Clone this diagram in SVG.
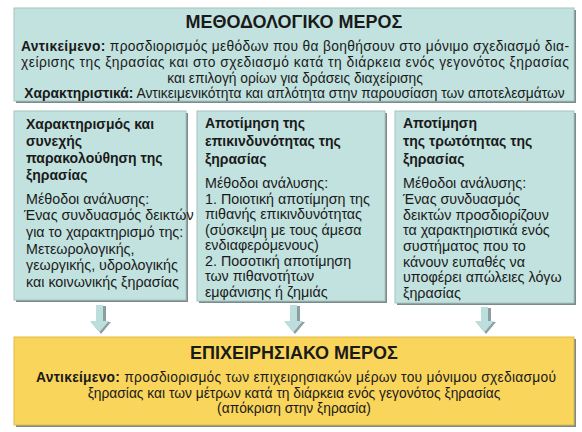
<svg xmlns="http://www.w3.org/2000/svg" width="582" height="432" viewBox="0 0 582 432">
<defs>
<style>
text{font-family:"Liberation Sans","DejaVu Sans",Arial,sans-serif;fill:#1a1a1a}
.box{fill:#c2e2df;stroke:#a6c4c2;stroke-width:1}
.ybox{fill:#f9d55c;stroke:#e0bb45;stroke-width:1}
.shadow{fill:#7d8a8a}
.h1{font-size:18px;font-weight:bold;text-anchor:middle}
.t{font-size:13.8px}
.b{font-weight:bold}
.ht{font-size:14px;font-weight:bold}
.bt{font-size:14.3px}
.arrow{fill:#bcdedd}
.ashadow{fill:#8d9e9e}
</style>
</defs>
<rect width="582" height="432" fill="#ffffff"/>
<g id="methodological">
<rect class="shadow" x="16" y="10" width="560" height="93"/>
<rect class="box" x="14" y="8" width="560" height="93"/>
<text class="h1" x="294" y="28">ΜΕΘΟΔΟΛΟΓΙΚΟ ΜΕΡΟΣ</text>
<text class="t" x="21" y="51" textLength="548" lengthAdjust="spacing"><tspan class="b">Αντικείμενο:</tspan> προσδιορισμός μεθόδων που θα βοηθήσουν στο μόνιμο σχεδιασμό δια-</text>
<text class="t" x="21" y="67" textLength="548" lengthAdjust="spacing">χείρισης της ξηρασίας και στο σχεδιασμό κατά τη διάρκεια ενός γεγονότος ξηρασίας</text>
<text class="t" x="295" y="83" text-anchor="middle">και επιλογή ορίων για δράσεις διαχείρισης</text>
<text class="t" x="294.5" y="98" text-anchor="middle"><tspan class="b">Χαρακτηριστικά:</tspan> Αντικειμενικότητα και απλότητα στην παρουσίαση των αποτελεσμάτων</text>
</g>
<g id="characterization">
<rect class="shadow" x="16" y="113" width="172" height="189"/>
<rect class="box" x="14" y="111" width="172" height="189"/>
<text class="ht" x="26" y="129">Χαρακτηρισμός και</text>
<text class="ht" x="26" y="146">συνεχής</text>
<text class="ht" x="26" y="163">παρακολούθηση της</text>
<text class="ht" x="26" y="180">ξηρασίας</text>
<text class="bt" x="26" y="204">Μέθοδοι ανάλυσης:</text>
<text class="bt" x="24" y="220">Ένας συνδυασμός δεικτών</text>
<text class="bt" x="26" y="237">για το χαρακτηρισμό της:</text>
<text class="bt" x="26" y="254">Μετεωρολογικής,</text>
<text class="bt" x="26" y="270">γεωργικής, υδρολογικής</text>
<text class="bt" x="26" y="287">και κοινωνικής ξηρασίας</text>
</g>
<g id="risk">
<rect class="shadow" x="199" y="113" width="188" height="190"/>
<rect class="box" x="197" y="111" width="188" height="190"/>
<text class="ht" x="205" y="128">Αποτίμηση της</text>
<text class="ht" x="205" y="146">επικινδυνότητας της</text>
<text class="ht" x="205" y="164">ξηρασίας</text>
<text class="bt" x="205" y="188">Μέθοδοι ανάλυσης:</text>
<text class="bt" x="205" y="204">1. Ποιοτική αποτίμηση της</text>
<text class="bt" x="205" y="219">πιθανής επικινδυνότητας</text>
<text class="bt" x="205" y="235">(σύσκεψη με τους άμεσα</text>
<text class="bt" x="205" y="250">ενδιαφερόμενους)</text>
<text class="bt" x="205" y="266">2. Ποσοτική αποτίμηση</text>
<text class="bt" x="205" y="281">των πιθανοτήτων</text>
<text class="bt" x="205" y="297">εμφάνισης ή ζημιάς</text>
</g>
<g id="vulnerability">
<rect class="shadow" x="397" y="113" width="179" height="192"/>
<rect class="box" x="395" y="111" width="179" height="192"/>
<text class="ht" x="403" y="128">Αποτίμηση</text>
<text class="ht" x="403" y="146">της τρωτότητας της</text>
<text class="ht" x="403" y="164">ξηρασίας</text>
<text class="bt" x="403" y="188">Μέθοδοι ανάλυσης:</text>
<text class="bt" x="403" y="204">Ένας συνδυασμός</text>
<text class="bt" x="403" y="220">δεικτών προσδιορίζουν</text>
<text class="bt" x="403" y="235">τα χαρακτηριστικά ενός</text>
<text class="bt" x="403" y="251">συστήματος που το</text>
<text class="bt" x="403" y="267">κάνουν ευπαθές να</text>
<text class="bt" x="403" y="282">υποφέρει απώλειες λόγω</text>
<text class="bt" x="403" y="298">ξηρασίας</text>
</g>
<g id="connectors">
<g transform="translate(100,0)">
<path class="ashadow" d="M-2,306 H6 V322 H11 L1,334 L-9,322 H-2 Z"/>
<path class="arrow" d="M-4,305 H3 V321 H9 L-0.5,332 L-10,321 H-4 Z"/>
</g>
<g transform="translate(294,0)">
<path class="ashadow" d="M-2,306 H6 V322 H11 L1,334 L-9,322 H-2 Z"/>
<path class="arrow" d="M-4,305 H3 V321 H9 L-0.5,332 L-10,321 H-4 Z"/>
</g>
<g transform="translate(485,0)">
<path class="ashadow" d="M-2,308 H6 V322 H11 L1,334 L-9,322 H-2 Z"/>
<path class="arrow" d="M-4,307 H3 V321 H9 L-0.5,332 L-10,321 H-4 Z"/>
</g>
</g>
<g id="operational">
<rect class="shadow" x="16" y="339" width="560" height="88"/>
<rect class="ybox" x="14" y="337" width="560" height="88"/>
<text class="h1" x="294" y="359">ΕΠΙΧΕΙΡΗΣΙΑΚΟ ΜΕΡΟΣ</text>
<text class="t" x="36" y="382" textLength="520" lengthAdjust="spacing"><tspan class="b">Αντικείμενο:</tspan> προσδιορισμός των επιχειρησιακών μέρων του μόνιμου σχεδιασμού</text>
<text class="t" x="294" y="398" text-anchor="middle">ξηρασίας και των μέτρων κατά τη διάρκεια ενός γεγονότος ξηρασίας</text>
<text class="t" x="294" y="413" text-anchor="middle">(απόκριση στην ξηρασία)</text>
</g>
</svg>
